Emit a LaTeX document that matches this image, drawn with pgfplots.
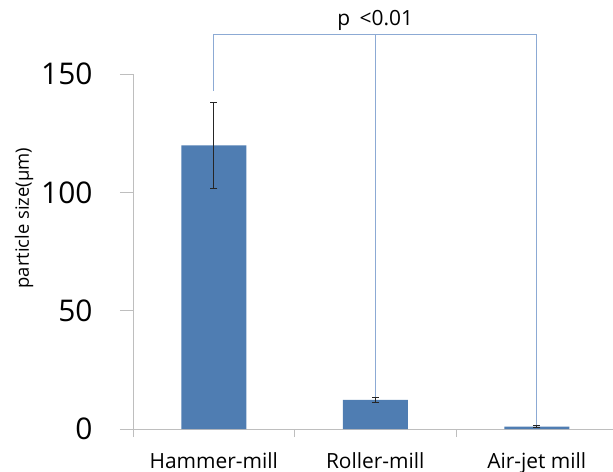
\documentclass[border=0pt]{standalone}
\usepackage{pgfplots}
\pgfplotsset{compat=1.18}
\usepackage{fontspec}
\setmainfont{Open Sans}
\definecolor{barblue}{RGB}{79,125,178}
\definecolor{brk}{RGB}{140,170,212}
\definecolor{axgray}{RGB}{190,190,190}
\begin{document}
\begin{tikzpicture}
\begin{axis}[
  at={(0,0)}, anchor=south west,
  scale only axis,
  width=480bp, height=355bp,
  xmin=-0.5, xmax=2.472,
  ymin=0, ymax=150,
  axis x line=bottom, axis y line=left,
  axis line style={-, axgray, line width=0.9pt},
  clip=false,
  xtick={0,1,2},
  xticklabels={Hammer-mill,Roller-mill,Air-jet mill},
  minor xtick={-0.5,0.5,1.5},
  ytick={0,50,100,150},
  tick align=outside,
  tick style={axgray, line width=0.9pt},
  major x tick style={draw=none},
  major tick length=13bp,
  minor tick length=8bp,
  /pgf/number format/assume math mode=true,
  yticklabel style={font=\fontsize{30}{34}\selectfont, xshift=-24bp},
  xticklabel style={font=\fontsize{21}{25}\selectfont, yshift=-7bp},
  ylabel={particle size(μm)},
  ylabel style={font=\fontsize{18.5}{22}\selectfont, at={(axis description cs:-0.227,0.594)}, anchor=center, rotate=0},
]
\addplot[ybar, bar width=65bp, fill=barblue, draw=none,
  error bars/.cd, y dir=both, y explicit,
  error bar style={black!85, line width=0.8pt},
  error mark options={rotate=90, mark size=3.5bp, black!85, line width=0.8pt}]
  coordinates {(0,119.8) +- (0,18.3) (1,12.3) +- (0,0.9) (2,1.0) +- (0,0.4)};
\addplot[brk, line width=0.9pt, no marks] coordinates {(0,142.9) (0,166.8) (2,166.8) (2,1.7)};
\addplot[brk, line width=0.9pt, no marks] coordinates {(1,166.8) (1,13.5)};
\node[font=\fontsize{21}{25}\selectfont] at (axis cs:1,172.8) {p\hspace{0.45em}<0.01};
\end{axis}
\pgfresetboundingbox
\path[use as bounding box] (-133bp,-43bp) rectangle (480bp,429bp);
\end{tikzpicture}
\end{document}
